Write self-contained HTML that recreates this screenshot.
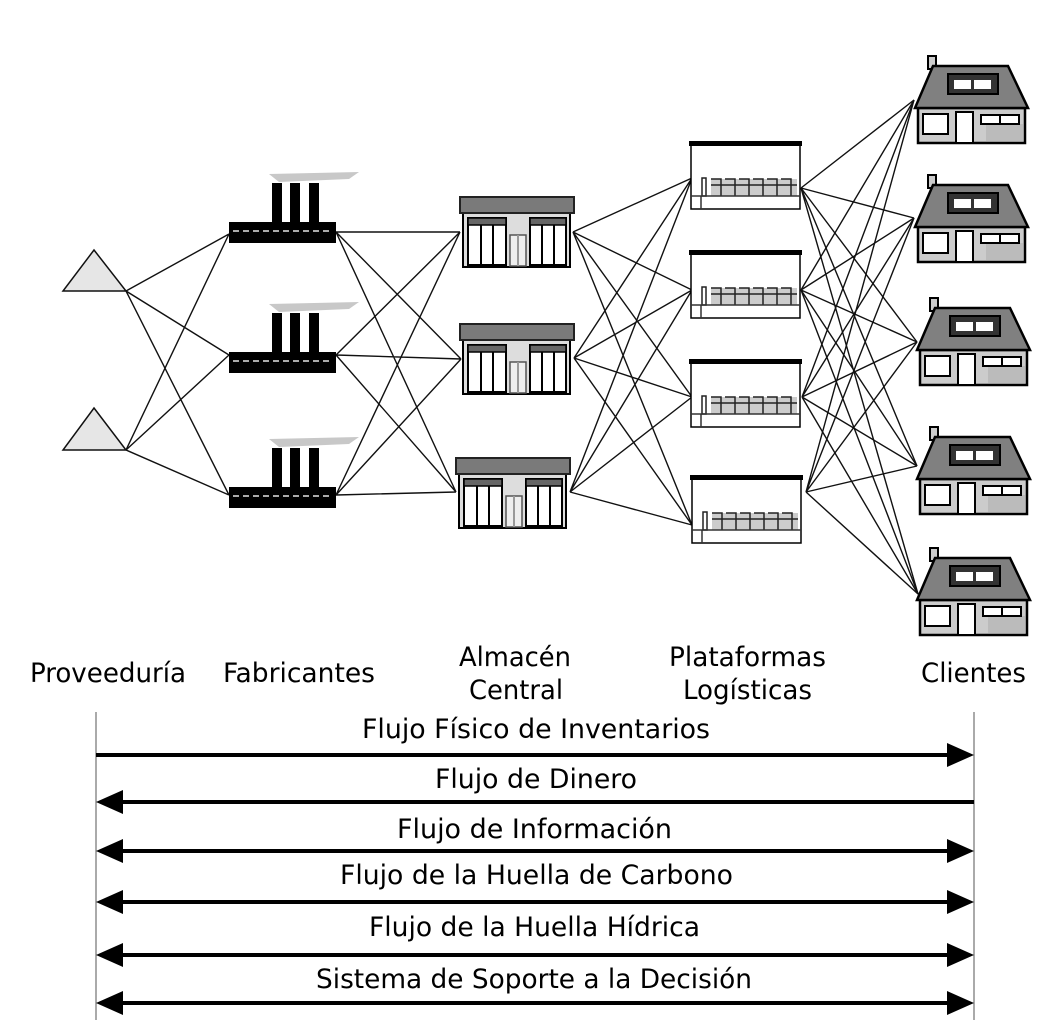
<!DOCTYPE html>
<html><head><meta charset="utf-8"><style>
html,body{margin:0;padding:0;background:#fff}
svg{display:block}
text{font-family:"DejaVu Sans Condensed","DejaVu Sans","Liberation Sans",sans-serif;font-size:27px;fill:#000}
</style></head><body>
<svg width="1043" height="1023" viewBox="0 0 1043 1023" xmlns="http://www.w3.org/2000/svg">
<defs>
<g id="fac">
 <polygon points="40,-48 130,-50 120,-43 50,-40" fill="#c8c8c8"/>
 <rect x="43" y="-39" width="10" height="40" fill="#000"/>
 <rect x="61" y="-39" width="10" height="40" fill="#000"/>
 <rect x="80" y="-39" width="10" height="40" fill="#000"/>
 <rect x="0" y="0" width="107" height="21" fill="#000"/>
 <line x1="4" y1="9" x2="104" y2="9" stroke="#aaa" stroke-width="2" stroke-dasharray="6,4"/>
</g>
<g id="wh">
 <rect x="3" y="16" width="107" height="54" fill="#ddd" stroke="#000" stroke-width="2"/>
 <rect x="0" y="0" width="114" height="16" fill="#7a7a7a" stroke="#222" stroke-width="2"/>
 <rect x="8" y="21" width="38" height="47" fill="#fff" stroke="#000" stroke-width="2"/>
 <rect x="8" y="21" width="38" height="7" fill="#666" stroke="#000" stroke-width="1.5"/>
 <line x1="21" y1="28" x2="21" y2="68" stroke="#000" stroke-width="2"/><line x1="33" y1="28" x2="33" y2="68" stroke="#000" stroke-width="2"/>
 <rect x="70" y="21" width="36" height="47" fill="#fff" stroke="#000" stroke-width="2"/>
 <rect x="70" y="21" width="36" height="7" fill="#666" stroke="#000" stroke-width="1.5"/>
 <line x1="82" y1="28" x2="82" y2="68" stroke="#000" stroke-width="2"/><line x1="94" y1="28" x2="94" y2="68" stroke="#000" stroke-width="2"/>
 <rect x="50" y="38" width="16" height="31" fill="#eee" stroke="#555" stroke-width="1.5"/>
 <line x1="58" y1="38" x2="58" y2="69" stroke="#999" stroke-width="2"/>
</g>
<g id="pl">
 <rect x="2" y="4" width="109" height="64" fill="#fff" stroke="#000" stroke-width="1.5"/>
 <rect x="0" y="0" width="113" height="5" fill="#000"/>
 <rect x="22" y="38" width="86" height="17" fill="#ccc"/>
 <path d="M22 38h10v17M36 38h10v17M50 38h10v17M64 38h10v17M78 38h10v17M92 38h10v17M32 38v17M46 38v17M60 38v17M74 38v17M88 38v17M102 38v17M22 44h86" fill="none" stroke="#222" stroke-width="1.5"/>
 <rect x="13" y="37" width="4" height="18" fill="none" stroke="#222" stroke-width="1.5"/>
 <line x1="2" y1="55" x2="111" y2="55" stroke="#333" stroke-width="1.5"/>
 <line x1="12" y1="55" x2="12" y2="68" stroke="#333" stroke-width="1.5"/>
</g>
<g id="hs">
 <rect x="10" y="-10" width="8" height="13" fill="#ccc" stroke="#000" stroke-width="2"/>
 <rect x="0" y="42" width="107" height="35" fill="#ccc" stroke="#000" stroke-width="2.5"/>
 <rect x="68" y="58" width="37" height="17" fill="#bbb"/>
 <polygon points="15,0 90,0 110,42 -3,42" fill="#808080" stroke="#000" stroke-width="2.5"/>
 <rect x="30" y="8" width="50" height="20" fill="#333" stroke="#000" stroke-width="2"/>
 <rect x="36" y="14" width="17" height="9" fill="#fff"/><rect x="56" y="14" width="17" height="9" fill="#fff"/>
 <rect x="5" y="48" width="25" height="20" fill="#fff" stroke="#000" stroke-width="2"/>
 <rect x="38" y="46" width="17" height="31" fill="#fff" stroke="#000" stroke-width="2"/>
 <rect x="63" y="49" width="19" height="9" fill="#fff" stroke="#000" stroke-width="2"/>
 <rect x="82" y="49" width="19" height="9" fill="#fff" stroke="#000" stroke-width="2"/>
</g>
</defs>

<g stroke="#111" stroke-width="1.4" fill="none">
 <!-- T -> F -->
 <path d="M126 291L229 234M126 291L229 355M126 291L229 495M126 450L229 234M126 450L229 355M126 450L229 495"/>
 <!-- F -> W -->
 <path d="M336 232L460 232M336 232L461 359M336 232L456 492M336 355L460 232M336 355L461 359M336 355L456 492M336 495L460 232M336 495L461 359M336 495L456 492"/>
 <!-- W -> P -->
 <path d="M573 232L692 178M573 232L692 290M573 232L692 397M573 232L692 525M574 358L692 178M574 358L692 290M574 358L692 397M574 358L692 525M570 492L692 178M570 492L692 290M570 492L692 397M570 492L692 525"/>
 <!-- P -> H -->
 <path d="M801 188L914 100M801 188L914 218M801 188L917 342M801 188L917 466M801 188L918 594"/>
 <path d="M801 290L914 100M801 290L914 218M801 290L917 342M801 290L917 466M801 290L918 594"/>
 <path d="M802 397L914 100M802 397L914 218M802 397L917 342M802 397L917 466M802 397L918 594"/>
 <path d="M806 492L914 100M806 492L914 218M806 492L917 342M806 492L917 466M806 492L918 594"/>
</g>

<polygon points="94,250 126,291 63,291" fill="#e6e6e6" stroke="#111" stroke-width="1.5"/>
<polygon points="94,408 126,450 63,450" fill="#e6e6e6" stroke="#111" stroke-width="1.5"/>

<use href="#fac" x="229" y="222"/>
<use href="#fac" x="229" y="352"/>
<use href="#fac" x="229" y="487"/>

<use href="#wh" x="460" y="197"/>
<use href="#wh" x="460" y="324"/>
<use href="#wh" x="456" y="458"/>

<use href="#pl" x="689" y="141"/>
<use href="#pl" x="689" y="250"/>
<use href="#pl" x="689" y="359"/>
<use href="#pl" x="690" y="475"/>

<use href="#hs" x="918" y="66"/>
<use href="#hs" x="918" y="185"/>
<use href="#hs" x="920" y="308"/>
<use href="#hs" x="920" y="437"/>
<use href="#hs" x="920" y="558"/>

<text x="30" y="682" textLength="156" lengthAdjust="spacingAndGlyphs">Proveeduría</text>
<text x="223" y="682" textLength="152" lengthAdjust="spacingAndGlyphs">Fabricantes</text>
<text x="459" y="666" textLength="112" lengthAdjust="spacingAndGlyphs">Almacén</text>
<text x="469" y="699" textLength="94" lengthAdjust="spacingAndGlyphs">Central</text>
<text x="669" y="666" textLength="157" lengthAdjust="spacingAndGlyphs">Plataformas</text>
<text x="683" y="699" textLength="129" lengthAdjust="spacingAndGlyphs">Logísticas</text>
<text x="921" y="682" textLength="105" lengthAdjust="spacingAndGlyphs">Clientes</text>

<g stroke="#555" stroke-width="1"><line x1="96" y1="712" x2="96" y2="1020"/><line x1="974" y1="712" x2="974" y2="1020"/></g>

<g stroke="#000" stroke-width="4">
 <line x1="96" y1="755" x2="950" y2="755"/>
 <line x1="120" y1="802" x2="974" y2="802"/>
 <line x1="120" y1="851" x2="950" y2="851"/>
 <line x1="120" y1="902" x2="950" y2="902"/>
 <line x1="120" y1="955" x2="950" y2="955"/>
 <line x1="120" y1="1003" x2="950" y2="1003"/>
</g>
<g fill="#000">
 <polygon points="974,755 947,743 947,767"/>
 <polygon points="96,802 123,790 123,814"/>
 <polygon points="974,851 947,839 947,863"/><polygon points="96,851 123,839 123,863"/>
 <polygon points="974,902 947,890 947,914"/><polygon points="96,902 123,890 123,914"/>
 <polygon points="974,955 947,943 947,967"/><polygon points="96,955 123,943 123,967"/>
 <polygon points="974,1003 947,991 947,1015"/><polygon points="96,1003 123,991 123,1015"/>
</g>

<text x="362" y="738" textLength="348" lengthAdjust="spacingAndGlyphs">Flujo Físico de Inventarios</text>
<text x="435" y="788" textLength="202" lengthAdjust="spacingAndGlyphs">Flujo de Dinero</text>
<text x="397" y="838" textLength="275" lengthAdjust="spacingAndGlyphs">Flujo de Información</text>
<text x="340" y="884" textLength="393" lengthAdjust="spacingAndGlyphs">Flujo de la Huella de Carbono</text>
<text x="369" y="936" textLength="331" lengthAdjust="spacingAndGlyphs">Flujo de la Huella Hídrica</text>
<text x="316" y="988" textLength="436" lengthAdjust="spacingAndGlyphs">Sistema de Soporte a la Decisión</text>
</svg>
</body></html>
